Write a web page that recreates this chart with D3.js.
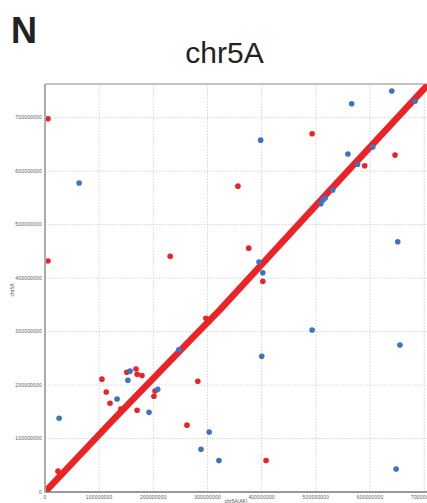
<!DOCTYPE html>
<html>
<head>
<meta charset="utf-8">
<script src="https://cdn.jsdelivr.net/npm/d3@7"></script>
<style>
    html, body { margin: 0; padding: 0; background: #fff; }
    svg { display: block; font-family: 'Liberation Sans', Arial, sans-serif; }
</style>
</head>
<body>
<div class="dotChart"></div>
<script>
// values in Mb (x: chr5A query, y: chr5A reference)
let panelLabel = 'N';
let chartTitle = 'chr5A';
let xTitle = 'chr5A(AK)';
let yTitle = 'chr5A';
let tickValues = [0, 100, 200, 300, 400, 500, 600, 700];

// main collinear diagonal, read along its centre
let diagonalX = [0, 125, 268, 323, 511, 705, 715];
let diagonalY = [0, 134, 284, 341, 548, 760, 771];

// off-diagonal red hits
let redX = [5.5, 5.5, 24, 105, 113, 120, 140, 151, 168, 170, 179, 170, 203, 201, 282, 262, 408, 376, 402, 493, 590, 646, 356, 231, 297];
let redY = [698, 432, 39, 211, 187, 166, 155, 224, 230, 220, 218, 153, 189, 179, 207, 125, 59, 456, 394, 670, 610, 630, 572, 441, 325];

// blue hits
let blueX = [63, 26, 157, 153, 133, 192, 208, 247, 303, 288, 321, 648, 395, 402, 493, 400, 651, 655, 509, 513, 566, 640, 559, 577, 605, 683, 531, 517, 398];
let blueY = [578, 138, 226, 209, 174, 149, 192, 266, 112, 80, 59, 43, 430, 410, 303, 254, 468, 275, 539, 546, 726, 750, 632, 613, 645, 731, 565, 550, 658];

let redColor = '#ec2227';
let blueColor = '#3d73c1';

drawDotChart();

function drawDotChart() {
    let width = 427, height = 503;
    let m = {top: 84, right: 0, bottom: 11, left: 45};

    let svg = d3.select('.dotChart').append('svg')
        .attr('width', width)
        .attr('height', height);

    let x = d3.scaleLinear().domain([0, 705]).range([m.left, width - m.right]);
    let y = d3.scaleLinear().domain([0, 763]).range([height - m.bottom, m.top]);

    svg.append('clipPath').attr('id', 'plotClip')
        .append('rect')
        .attr('x', m.left).attr('y', m.top)
        .attr('width', width - m.left).attr('height', height - m.bottom - m.top);

    // gridlines
    let grid = svg.append('g')
        .attr('stroke', '#c8c8c8')
        .attr('stroke-width', 0.8)
        .attr('stroke-dasharray', '1.5,1.5');
    grid.selectAll('.vg').data(tickValues.slice(1)).enter().append('line')
        .attr('x1', d => x(d)).attr('x2', d => x(d))
        .attr('y1', y(0)).attr('y2', m.top);
    grid.selectAll('.hg').data(tickValues.slice(1)).enter().append('line')
        .attr('x1', m.left).attr('x2', width)
        .attr('y1', d => y(d)).attr('y2', d => y(d));

    let plot = svg.append('g').attr('clip-path', 'url(#plotClip)');

    // diagonal
    let line = d3.line().x(d => x(d[0])).y(d => y(d[1]));
    plot.append('path')
        .datum(d3.zip(diagonalX, diagonalY))
        .attr('d', line)
        .attr('fill', 'none')
        .attr('stroke', redColor)
        .attr('stroke-width', 6.5)
        .attr('stroke-linecap', 'round');

    plot.selectAll('.red').data(d3.zip(redX, redY)).enter().append('circle')
        .attr('cx', d => x(d[0])).attr('cy', d => y(d[1]))
        .attr('r', 2.8).attr('fill', redColor);

    plot.selectAll('.blue').data(d3.zip(blueX, blueY)).enter().append('circle')
        .attr('cx', d => x(d[0])).attr('cy', d => y(d[1]))
        .attr('r', 2.8).attr('fill', blueColor);

    // frame
    svg.append('line')
        .attr('x1', m.left).attr('x2', width)
        .attr('y1', m.top).attr('y2', m.top)
        .attr('stroke', '#888').attr('stroke-width', 1.2);
    svg.append('line')
        .attr('x1', m.left).attr('x2', width)
        .attr('y1', y(0)).attr('y2', y(0))
        .attr('stroke', '#777').attr('stroke-width', 1.5);
    svg.append('line')
        .attr('x1', m.left).attr('x2', m.left)
        .attr('y1', m.top).attr('y2', y(0) + 1)
        .attr('stroke', '#aaa').attr('stroke-width', 2);

    // tick labels
    let fmt = d => d === 0 ? '0' : String(d * 1000000);
    svg.selectAll('.xt').data(tickValues).enter().append('text')
        .attr('x', d => x(d)).attr('y', y(0) + 6.5)
        .attr('text-anchor', 'middle')
        .attr('font-size', 4.8).attr('fill', '#555')
        .attr('letter-spacing', 0.3)
        .text(fmt);
    svg.selectAll('.yt').data(tickValues).enter().append('text')
        .attr('x', m.left - 3).attr('y', d => y(d) + 1.7)
        .attr('text-anchor', 'end')
        .attr('font-size', 4.8).attr('fill', '#555')
        .attr('letter-spacing', 0.3)
        .text(fmt);

    // axis titles
    svg.append('text')
        .attr('x', 236).attr('y', 503)
        .attr('text-anchor', 'middle')
        .attr('font-size', 5).attr('fill', '#555')
        .text(xTitle);
    svg.append('text')
        .attr('transform', 'translate(14,290) rotate(-90)')
        .attr('text-anchor', 'middle')
        .attr('font-size', 5).attr('fill', '#555')
        .text(yTitle);

    svg.append('text')
        .attr('x', 224.5).attr('y', 63)
        .attr('text-anchor', 'middle')
        .attr('font-size', 30).attr('fill', '#222')
        .text(chartTitle);

    svg.append('text')
        .attr('x', 11).attr('y', 43)
        .attr('font-size', 36).attr('font-weight', 'bold').attr('fill', '#222')
        .text(panelLabel);
}
</script>
</body>
</html>
